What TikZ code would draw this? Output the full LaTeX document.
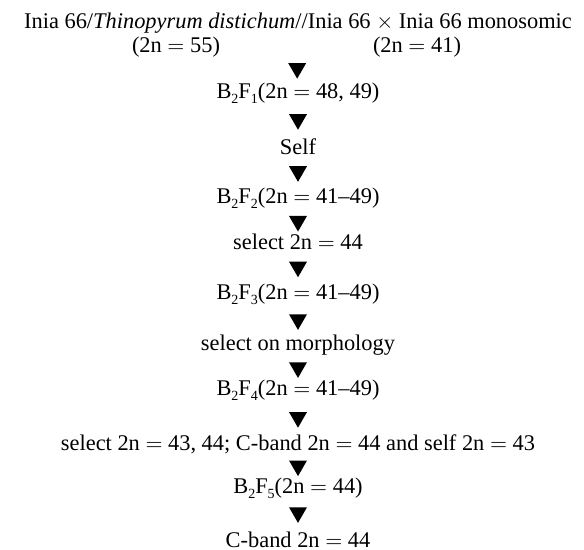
\documentclass[tikz,border=0pt]{standalone}
\usepackage{fontspec}
\setmainfont{Liberation Serif}
\usepackage{tikz}
\usetikzlibrary{shapes.geometric,calc}
\tikzset{
  lbl/.style={inner sep=0pt, font=\fontsize{11.2}{13}\selectfont},
  tri/.style={regular polygon, regular polygon sides=3, shape border rotate=180, fill=black, inner sep=0pt, minimum size=10.4pt},
}
\newcommand{\BF}[1]{B\raisebox{-0.45ex}{\scriptsize 2}F\raisebox{-0.45ex}{\scriptsize #1}}

\begin{document}
\begin{tikzpicture}[x=0.5pt, y=-0.5pt]
  \useasboundingbox[fill=white] (0,0) rectangle (584,550);
  \node[lbl] (hdr) at (298,23) {Inia 66/\textit{Thinopyrum distichum}//Inia 66 $\times$ Inia 66 monosomic};
  \node[lbl] (p55) at (176,47) {(2n $=$ 55)};
  \node[lbl] (p41) at (417,47) {(2n $=$ 41)};
  \coordinate (cross) at ($(p55)!0.5!(p41)$);
  \node[lbl] (f1) at (298,93) {\BF{1}(2n $=$ 48, 49)};
  \node[lbl] (self) at (298,147) {Self};
  \node[lbl] (f2) at (298,198) {\BF{2}(2n $=$ 41--49)};
  \node[lbl] (sel44) at (298,242) {select 2n $=$ 44};
  \node[lbl] (f3) at (298,294) {\BF{3}(2n $=$ 41--49)};
  \node[lbl] (morph) at (298,345) {select on morphology};
  \node[lbl] (f4) at (298,390) {\BF{4}(2n $=$ 41--49)};
  \node[lbl] (sel43) at (298,444) {select 2n $=$ 43, 44; C-band 2n $=$ 44 and self 2n $=$ 43};
  \node[lbl] (f5) at (298,488) {\BF{5}(2n $=$ 44)};
  \node[lbl] (cband) at (298,540) {C-band 2n $=$ 44};

  \path (cross) -- node[tri, pos=0.6] (t1) {} (f1);
  \path (f1) -- node[tri, pos=0.45] (t2) {} (self);
  \path (self) -- node[tri] (t3) {} (f2);
  \path (f2) -- node[tri] (t4) {} (sel44);
  \path (sel44) -- node[tri] (t5) {} (f3);
  \path (f3) -- node[tri] (t6) {} (morph);
  \path (morph) -- node[tri] (t7) {} (f4);
  \path (f4) -- node[tri] (t8) {} (sel43);
  \path (sel43) -- node[tri] (t9) {} (f5);
  \path (f5) -- node[tri, pos=0.42] (t10) {} (cband);
\end{tikzpicture}
\end{document}
